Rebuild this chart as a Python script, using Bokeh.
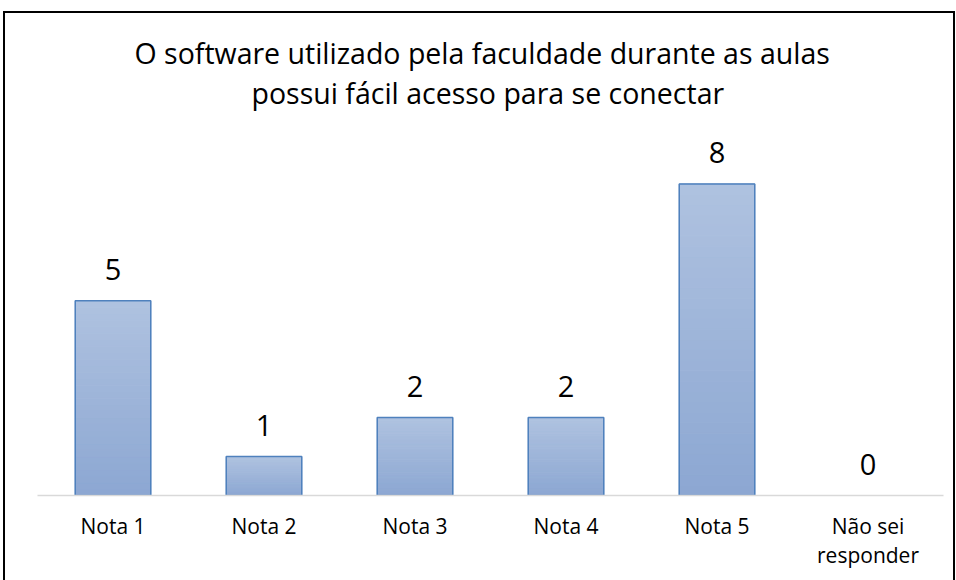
from bokeh.plotting import figure
from bokeh.models import ColumnDataSource, LabelSet, Title, FactorRange, Range1d
from bokeh.core.properties import value
from bokeh.embed import file_html
from bokeh.resources import INLINE

categories = ["Nota 1", "Nota 2", "Nota 3", "Nota 4", "Nota 5", "Não sei\nresponder"]
values = [5, 1, 2, 2, 8, 0]
title_lines = ["O software utilizado pela faculdade durante as aulas",
               "possui fácil acesso para se conectar"]

FONT = "Open Sans"
TOP_C = (0xAF, 0xC2, 0xE0)
BOT_C = (0x8C, 0xA7, 0xD2)
N = 30

p = figure(x_range=FactorRange(*categories, range_padding=0), y_range=Range1d(0, 9.5),
           frame_width=906, frame_height=370, output_backend="svg", toolbar_location=None,
           min_border_left=32, min_border_right=10, min_border_top=112, min_border_bottom=95)

# gradient slices (fraction of each bar's own height)
xs, bots, tops, cols = [], [], [], []
for c, v in zip(categories, values):
    if v <= 0:
        continue
    for k in range(N):
        f = (k + 0.5) / N
        col = tuple(int(round(BOT_C[i] + (TOP_C[i] - BOT_C[i]) * f)) for i in range(3))
        xs.append(c)
        bots.append(v * k / N)
        tops.append(v * (k + 1) / N)
        cols.append("#%02x%02x%02x" % col)
p.vbar(x=xs, bottom=bots, top=tops, width=0.5, fill_color=cols, line_color=cols, line_width=1)

pos = [(c, v) for c, v in zip(categories, values) if v > 0]
out_src = ColumnDataSource(dict(cat=[a for a, _ in pos], val=[b for _, b in pos]))
p.vbar(x="cat", top="val", width=0.5, source=out_src, fill_color=None,
       line_color="#4F81BD", line_width=1.5)

src = ColumnDataSource(dict(cat=categories, val=values, lbl=[str(v) for v in values]))
labels = LabelSet(x="cat", y="val", text="lbl", source=src, text_align="center",
                  text_baseline="alphabetic", y_offset=21, text_font=value(FONT),
                  text_font_size="29px", text_color="#000000")
p.add_layout(labels)

# spacer between plot area and title block
p.add_layout(Title(text=" ", text_font_size="1px", standoff=11), "above")

title_offsets = [97, 214]
for line, off in reversed(list(zip(title_lines, title_offsets))):
    t = Title(text=line, align="left", text_font=FONT, text_font_size="28.5px",
              text_font_style="normal", text_color="#000000", offset=off, standoff=0)
    p.add_layout(t, "above")

p.title.text = ""

p.yaxis.visible = False
p.xgrid.visible = False
p.ygrid.visible = False
p.outline_line_color = None
p.xaxis.axis_line_color = "#D9D9D9"
p.xaxis.axis_line_width = 1.5
p.xaxis.major_tick_line_color = None
p.xaxis.minor_tick_line_color = None
p.xaxis.major_label_text_font = FONT
p.xaxis.major_label_text_font_size = "21px"
p.xaxis.major_label_text_color = "#000000"
p.xaxis.major_label_standoff = 10
p.xaxis.major_label_text_line_height = 1.05
p.styles = {"border": "2px solid #000000", "margin-left": "3px", "margin-top": "11px"}

open("out.html", "w").write(file_html(p, INLINE))
